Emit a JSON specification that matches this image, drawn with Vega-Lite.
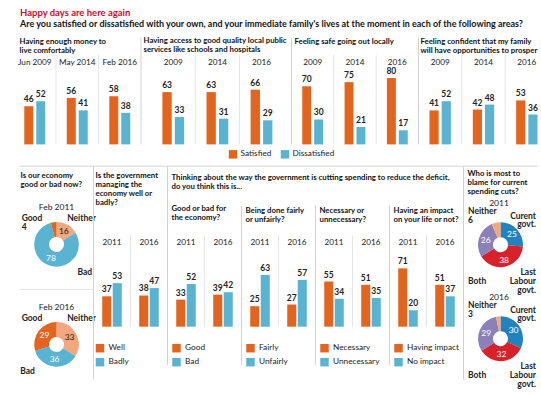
{
"$schema": "https://vega.github.io/schema/vega-lite/v6.json",
"background": "white",
"padding": {"left": 13.5, "top": 7.4, "right": 0, "bottom": 0},
"title": {"text": "Happy days are here again", "subtitle": "Are you satisfied or dissatisfied with your own, and your immediate family's lives at the moment in each of the following areas?", "anchor": "start", "frame": "group", "dx": 6.5, "offset": 8, "color": "#cc0a2f", "fontSize": 9.5, "fontWeight": "bold", "subtitleColor": "#111", "subtitleFontSize": 9, "subtitleFontWeight": "bold", "subtitlePadding": 2.5},
"datasets": {
"money": [{"year":"Jun 2009","status":"Satisfied","value":46},{"year":"Jun 2009","status":"Dissatisfied","value":52},{"year":"May 2014","status":"Satisfied","value":56},{"year":"May 2014","status":"Dissatisfied","value":41},{"year":"Feb 2016","status":"Satisfied","value":58},{"year":"Feb 2016","status":"Dissatisfied","value":38}],
"services": [{"year":"2009","status":"Satisfied","value":63},{"year":"2009","status":"Dissatisfied","value":33},{"year":"2014","status":"Satisfied","value":63},{"year":"2014","status":"Dissatisfied","value":31},{"year":"2016","status":"Satisfied","value":66},{"year":"2016","status":"Dissatisfied","value":29}],
"safe": [{"year":"2009","status":"Satisfied","value":70},{"year":"2009","status":"Dissatisfied","value":30},{"year":"2014","status":"Satisfied","value":75},{"year":"2014","status":"Dissatisfied","value":21},{"year":"2016","status":"Satisfied","value":80},{"year":"2016","status":"Dissatisfied","value":17}],
"prosper": [{"year":"2009","status":"Satisfied","value":41},{"year":"2009","status":"Dissatisfied","value":52},{"year":"2014","status":"Satisfied","value":42},{"year":"2014","status":"Dissatisfied","value":48},{"year":"2016","status":"Satisfied","value":53},{"year":"2016","status":"Dissatisfied","value":36}],
"gov": [{"year":"2011","answer":"Well","value":37},{"year":"2011","answer":"Badly","value":53},{"year":"2016","answer":"Well","value":38},{"year":"2016","answer":"Badly","value":47}],
"effect": [{"year":"2011","answer":"Good","value":33},{"year":"2011","answer":"Bad","value":52},{"year":"2016","answer":"Good","value":39},{"year":"2016","answer":"Bad","value":42}],
"fair": [{"year":"2011","answer":"Fairly","value":25},{"year":"2011","answer":"Unfairly","value":63},{"year":"2016","answer":"Fairly","value":27},{"year":"2016","answer":"Unfairly","value":57}],
"necessary": [{"year":"2011","answer":"Necessary","value":55},{"year":"2011","answer":"Unnecessary","value":34},{"year":"2016","answer":"Necessary","value":51},{"year":"2016","answer":"Unnecessary","value":35}],
"impact": [{"year":"2011","answer":"Having impact","value":71},{"year":"2011","answer":"No impact","value":20},{"year":"2016","answer":"Having impact","value":51},{"year":"2016","answer":"No impact","value":37}],
"econ": [{"period":"Feb 2011","answer":"Neither","value":16,"rank":1},{"period":"Feb 2011","answer":"Bad","value":78,"rank":2},{"period":"Feb 2011","answer":"Good","value":4,"rank":3},{"period":"Feb 2016","answer":"Neither","value":33,"rank":1},{"period":"Feb 2016","answer":"Bad","value":36,"rank":2},{"period":"Feb 2016","answer":"Good","value":29,"rank":3}],
"blame": [{"year":"2011","answer":"Curent govt.","value":25,"rank":1},{"year":"2011","answer":"Last Labour govt.","value":38,"rank":2},{"year":"2011","answer":"Both","value":26,"rank":3},{"year":"2011","answer":"Neither","value":6,"rank":4},{"year":"2016","answer":"Curent govt.","value":30,"rank":1},{"year":"2016","answer":"Last Labour govt.","value":32,"rank":2},{"year":"2016","answer":"Both","value":29,"rank":3},{"year":"2016","answer":"Neither","value":3,"rank":4}]
},
"vconcat": [
{"hconcat": [
 {"width": 127.5, "height": 83, "data": {"name": "money"},
  "title": {"text": ["Having enough money to", "live comfortably"], "dx": 6, "offset": -18},
  "layer": [
   {"mark": {"type": "bar"}, "encoding": {
     "x": {"field": "year", "type": "nominal", "scale": {"type": "band", "domain": ["Jun 2009","May 2014","Feb 2016"], "paddingInner": 0, "paddingOuter": 0}, "axis": {"orient": "top", "title": null, "offset": -1.3}},
     "xOffset": {"field": "status", "type": "nominal", "scale": {"domain": ["Satisfied","Dissatisfied"], "paddingInner": 0.25, "paddingOuter": 0.9}},
     "y": {"field": "value", "type": "quantitative", "scale": {"domain": [0, 100]}, "axis": null},
     "color": {"field": "status", "type": "nominal", "scale": {"domain": ["Satisfied","Dissatisfied"], "range": ["#e2651f","#5ab3d1"]}, "legend": null}}},
   {"mark": {"type": "text", "baseline": "bottom", "dy": -2, "fontWeight": "bold"}, "encoding": {
     "x": {"field": "year", "type": "nominal"},
     "xOffset": {"field": "status", "type": "nominal"},
     "y": {"field": "value", "type": "quantitative"},
     "text": {"field": "value", "type": "quantitative"}}},
   {"transform": [{"filter": "datum.status === 'Satisfied' && datum.year !== 'Jun 2009'"}], "mark": {"type": "rule", "color": "#e6e6e6"}, "encoding": {
     "x": {"field": "year", "type": "nominal", "bandPosition": 0}, "y": {"datum": 108}, "y2": {"datum": 0}}},
   {"transform": [{"filter": "datum.status === 'Satisfied' && datum.year === 'Feb 2016'"}], "mark": {"type": "rule", "color": "#d2d2d2"}, "encoding": {
     "x": {"field": "year", "type": "nominal", "bandPosition": 1}, "y": {"datum": 128.6}, "y2": {"datum": 0}}}
  ]},
 {"width": 150, "height": 83, "data": {"name": "services"},
  "title": {"text": ["Having access to good quality local public", "services like schools and hospitals"], "dx": 2, "offset": 0.5},
  "layer": [
   {"mark": {"type": "bar"}, "encoding": {
     "x": {"field": "year", "type": "nominal", "scale": {"type": "band", "domain": ["2009","2014","2016"], "paddingInner": 0, "paddingOuter": 0.2, "align": 0.55}, "axis": {"orient": "top", "title": null, "offset": -1.3}},
     "xOffset": {"field": "status", "type": "nominal", "scale": {"domain": ["Satisfied","Dissatisfied"], "paddingInner": 0.25, "paddingOuter": 0.9}},
     "y": {"field": "value", "type": "quantitative", "scale": {"domain": [0, 100]}, "axis": null},
     "color": {"field": "status", "type": "nominal", "scale": {"domain": ["Satisfied","Dissatisfied"], "range": ["#e2651f","#5ab3d1"]}, "legend": {"orient": "none", "legendX": 87, "legendY": 88.3, "direction": "horizontal", "title": null, "columnPadding": 9, "labelOffset": 3}}}},
   {"mark": {"type": "text", "baseline": "bottom", "dy": -2, "fontWeight": "bold"}, "encoding": {
     "x": {"field": "year", "type": "nominal"},
     "xOffset": {"field": "status", "type": "nominal"},
     "y": {"field": "value", "type": "quantitative"},
     "text": {"field": "value", "type": "quantitative"}}},
   {"transform": [{"filter": "datum.status === 'Satisfied' && datum.year !== '2009'"}], "mark": {"type": "rule", "color": "#e6e6e6"}, "encoding": {
     "x": {"field": "year", "type": "nominal", "bandPosition": 0}, "y": {"datum": 108}, "y2": {"datum": 0}}}
  ]},
 {"width": 127, "height": 83, "data": {"name": "safe"},
  "title": {"text": ["Feeling safe going out locally", ""], "dx": 3, "offset": -18},
  "layer": [
   {"mark": {"type": "bar"}, "encoding": {
     "x": {"field": "year", "type": "nominal", "scale": {"type": "band", "domain": ["2009","2014","2016"], "paddingInner": 0, "paddingOuter": 0}, "axis": {"orient": "top", "title": null, "offset": -1.3}},
     "xOffset": {"field": "status", "type": "nominal", "scale": {"domain": ["Satisfied","Dissatisfied"], "paddingInner": 0.25, "paddingOuter": 0.9}},
     "y": {"field": "value", "type": "quantitative", "scale": {"domain": [0, 100]}, "axis": null},
     "color": {"field": "status", "type": "nominal", "scale": {"domain": ["Satisfied","Dissatisfied"], "range": ["#e2651f","#5ab3d1"]}, "legend": null}}},
   {"mark": {"type": "text", "baseline": "bottom", "dy": -2, "fontWeight": "bold"}, "encoding": {
     "x": {"field": "year", "type": "nominal"},
     "xOffset": {"field": "status", "type": "nominal"},
     "y": {"field": "value", "type": "quantitative"},
     "text": {"field": "value", "type": "quantitative"}}},
   {"transform": [{"filter": "datum.status === 'Satisfied' && datum.year !== '2009'"}], "mark": {"type": "rule", "color": "#e6e6e6"}, "encoding": {
     "x": {"field": "year", "type": "nominal", "bandPosition": 0}, "y": {"datum": 108}, "y2": {"datum": 0}}},
   {"transform": [{"filter": "datum.status === 'Satisfied' && datum.year === '2009'"}], "mark": {"type": "rule", "color": "#d2d2d2"}, "encoding": {
     "x": {"field": "year", "type": "nominal", "bandPosition": 0}, "y": {"datum": 128.6}, "y2": {"datum": 0}}}
  ]},
 {"width": 123, "height": 83, "data": {"name": "prosper"},
  "title": {"text": ["Feeling confident that my family", "will have opportunities to prosper"], "dx": 2, "offset": -18},
  "layer": [
   {"mark": {"type": "bar"}, "encoding": {
     "x": {"field": "year", "type": "nominal", "scale": {"type": "band", "domain": ["2009","2014","2016"], "paddingInner": 0, "paddingOuter": 0, "range": [0, 130]}, "axis": {"orient": "top", "title": null, "offset": -1.3}},
     "xOffset": {"field": "status", "type": "nominal", "scale": {"domain": ["Satisfied","Dissatisfied"], "paddingInner": 0.25, "paddingOuter": 0.9}},
     "y": {"field": "value", "type": "quantitative", "scale": {"domain": [0, 100]}, "axis": null},
     "color": {"field": "status", "type": "nominal", "scale": {"domain": ["Satisfied","Dissatisfied"], "range": ["#e2651f","#5ab3d1"]}, "legend": null}}},
   {"mark": {"type": "text", "baseline": "bottom", "dy": -2, "fontWeight": "bold"}, "encoding": {
     "x": {"field": "year", "type": "nominal"},
     "xOffset": {"field": "status", "type": "nominal"},
     "y": {"field": "value", "type": "quantitative"},
     "text": {"field": "value", "type": "quantitative"}}},
   {"transform": [{"filter": "datum.status === 'Satisfied' && datum.year !== '2009'"}], "mark": {"type": "rule", "color": "#e6e6e6"}, "encoding": {
     "x": {"field": "year", "type": "nominal", "bandPosition": 0}, "y": {"datum": 108}, "y2": {"datum": 0}}},
   {"transform": [{"filter": "datum.status === 'Satisfied' && datum.year === '2009'"}], "mark": {"type": "rule", "color": "#d2d2d2"}, "encoding": {
     "x": {"field": "year", "type": "nominal", "bandPosition": 0}, "y": {"datum": 128.6}, "y2": {"datum": 0}}}
  ]}
 ], "spacing": 0, "bounds": "flush", "resolve": {"scale": {"x": "independent", "y": "independent", "xOffset": "independent", "color": "independent"}}},
{"hconcat": [
 {"width": 5.5, "height": 10, "mark": {"type": "text"}, "encoding": {"text": {"value": ""}}},
 {"width": 74, "height": 165.4, "data": {"name": "econ"},
  "title": {"text": ["Is our economy", "good or bad now?"], "dx": 1, "offset": 14},
  "encoding": {"y": {"field": "period", "type": "nominal", "scale": {"type": "point", "padding": 0.327, "domain": ["Feb 2011","Feb 2016"]}, "axis": null}},
  "layer": [
   {"transform": [{"filter": "datum.period === 'Feb 2011'"}], "mark": {"type": "arc", "innerRadius": 7.5, "outerRadius": 22.3}, "encoding": {
     "theta": {"field": "value", "type": "quantitative", "stack": "normalize"},
     "order": {"field": "rank", "type": "quantitative"},
     "color": {"field": "answer", "type": "nominal", "scale": {"domain": ["Good","Neither","Bad"], "range": ["#e2651f","#f2a77c","#5ab3d1"]}, "legend": null}}},
   {"transform": [{"filter": "datum.period === 'Feb 2016'"}], "mark": {"type": "arc", "innerRadius": 7.5, "outerRadius": 22.3}, "encoding": {
     "theta": {"field": "value", "type": "quantitative", "stack": "normalize"},
     "order": {"field": "rank", "type": "quantitative"},
     "color": {"field": "answer", "type": "nominal"}}},
   {"transform": [{"filter": "datum.period === 'Feb 2011'"}], "mark": {"type": "text", "radius": 15, "fontSize": 8.5}, "encoding": {
     "theta": {"field": "value", "type": "quantitative", "stack": "normalize"},
     "order": {"field": "rank", "type": "quantitative"},
     "detail": {"field": "answer", "type": "nominal"},
     "text": {"condition": {"test": "datum.value >= 10", "field": "value", "type": "quantitative"}, "value": ""},
     "color": {"condition": {"test": "datum.answer === 'Neither'", "value": "#222"}, "value": "white"}}},
   {"transform": [{"filter": "datum.period === 'Feb 2016'"}], "mark": {"type": "text", "radius": 15, "fontSize": 8.5}, "encoding": {
     "theta": {"field": "value", "type": "quantitative", "stack": "normalize"},
     "order": {"field": "rank", "type": "quantitative"},
     "detail": {"field": "answer", "type": "nominal"},
     "text": {"condition": {"test": "datum.value >= 10", "field": "value", "type": "quantitative"}, "value": ""},
     "color": {"condition": {"test": "datum.answer === 'Neither'", "value": "#222"}, "value": "white"}}},
   {"transform": [{"filter": "datum.answer === 'Good'"}], "mark": {"type": "text", "radius": 43.5, "align": "left", "baseline": "middle", "fontWeight": "bold"}, "encoding": {
     "theta": {"datum": 0.852}, "text": {"field": "answer", "type": "nominal"}}},
   {"transform": [{"filter": "datum.answer === 'Good' && datum.value < 10"}], "mark": {"type": "text", "radius": 43.5, "dy": 9, "align": "left", "baseline": "middle", "fontWeight": "bold"}, "encoding": {
     "theta": {"datum": 0.852}, "text": {"field": "value", "type": "quantitative"}}},
   {"transform": [{"filter": "datum.answer === 'Neither'"}], "mark": {"type": "text", "radius": 28, "align": "left", "baseline": "middle", "fontWeight": "bold"}, "encoding": {
     "theta": {"datum": 0.062}, "text": {"field": "answer", "type": "nominal"}}},
   {"transform": [{"filter": "datum.answer === 'Bad' && datum.period === 'Feb 2011'"}], "mark": {"type": "text", "radius": 34.4, "align": "left", "baseline": "middle", "fontWeight": "bold"}, "encoding": {
     "theta": {"datum": 0.3956}, "text": {"field": "answer", "type": "nominal"}}},
   {"transform": [{"filter": "datum.answer === 'Bad' && datum.period === 'Feb 2016'"}], "mark": {"type": "text", "radius": 45, "align": "left", "baseline": "middle", "fontWeight": "bold"}, "encoding": {
     "theta": {"datum": 0.649}, "text": {"field": "answer", "type": "nominal"}}},
   {"transform": [{"filter": "datum.rank === 1"}], "mark": {"type": "text", "dy": -37.7, "fontSize": 8.5}, "encoding": {
     "text": {"field": "period", "type": "nominal"}}}
  ]},
 {"width": 74, "height": 115, "data": {"name": "gov"},
  "title": {"text": ["Is the government", "managing the", "economy well or", "badly?"], "dx": 2, "offset": -41},
  "layer": [
   {"mark": {"type": "bar"}, "encoding": {
     "x": {"field": "year", "type": "nominal", "scale": {"type": "band", "domain": ["2011","2016"], "paddingInner": 0, "paddingOuter": 0}, "axis": {"orient": "top", "title": null, "offset": -31}},
     "xOffset": {"field": "answer", "type": "nominal", "scale": {"domain": ["Well","Badly"], "paddingInner": 0.14, "paddingOuter": 0.83}},
     "y": {"field": "value", "type": "quantitative", "scale": {"domain": [0, 137]}, "axis": null},
     "color": {"field": "answer", "type": "nominal", "scale": {"domain": ["Well","Badly"], "range": ["#e2651f","#5ab3d1"]}, "legend": {"orient": "none", "legendX": 2, "legendY": 132, "direction": "vertical", "title": null, "rowPadding": 4, "labelOffset": 4}}}},
   {"mark": {"type": "text", "baseline": "bottom", "dy": -2, "fontWeight": "bold"}, "encoding": {
     "x": {"field": "year", "type": "nominal"},
     "xOffset": {"field": "answer", "type": "nominal"},
     "y": {"field": "value", "type": "quantitative"},
     "text": {"field": "value", "type": "quantitative"}}},
   {"transform": [{"filter": "datum.answer === 'Well' && datum.year === '2016'"}], "mark": {"type": "rule", "color": "#e6e6e6"}, "encoding": {
     "x": {"field": "year", "type": "nominal", "bandPosition": 0}, "y": {"datum": 110.8}, "y2": {"datum": 0}}},
   {"transform": [{"filter": "datum.answer === 'Well' && datum.year === '2011'"}], "mark": {"type": "rule", "color": "#d2d2d2"}, "encoding": {
     "x": {"field": "year", "type": "nominal", "bandPosition": 0}, "y": {"datum": 195.4}, "y2": {"datum": -64.3}}},
   {"transform": [{"filter": "datum.answer === 'Well' && datum.year === '2016'"}], "mark": {"type": "rule", "color": "#d2d2d2"}, "encoding": {
     "x": {"field": "year", "type": "nominal", "bandPosition": 1}, "y": {"datum": 195.4}, "y2": {"datum": -46.5}}},
   {"transform": [{"filter": "datum.answer === 'Well' && datum.year === '2016'"}], "mark": {"type": "rule", "color": "#d2d2d2"}, "encoding": {
     "x": {"field": "year", "type": "nominal", "bandPosition": 9}, "y": {"datum": 195.4}, "y2": {"datum": -64.3}}},
   {"transform": [{"filter": "datum.answer === 'Well' && datum.year === '2011'"}], "mark": {"type": "rule", "color": "#d2d2d2"}, "encoding": {
     "x": {"field": "year", "type": "nominal", "bandPosition": -2}, "x2": {"field": "year", "bandPosition": 12}, "y": {"datum": 195.4}}},
   {"transform": [{"filter": "datum.answer === 'Well' && datum.year === '2011'"}], "mark": {"type": "rule", "color": "#e6e6e6"}, "encoding": {
     "x": {"field": "year", "type": "nominal", "bandPosition": -2}, "x2": {"field": "year", "bandPosition": 0}, "y": {"datum": 45.3}}}
  ]},
 {"width": 74, "height": 115, "data": {"name": "effect"},
  "title": {"text": ["Thinking about the way the government is cutting spending to reduce the deficit,", "do you think this is..."], "subtitle": ["Good or bad for", "the economy?"], "subtitleFontWeight": "bold", "subtitleFontSize": 7.8, "subtitleColor": "#111", "subtitleLineHeight": 8.5, "subtitlePadding": 15, "dx": 4, "offset": -10},
  "layer": [
   {"mark": {"type": "bar"}, "encoding": {
     "x": {"field": "year", "type": "nominal", "scale": {"type": "band", "domain": ["2011","2016"], "paddingInner": 0, "paddingOuter": 0}, "axis": {"orient": "top", "title": null, "offset": -31}},
     "xOffset": {"field": "answer", "type": "nominal", "scale": {"domain": ["Good","Bad"], "paddingInner": 0.14, "paddingOuter": 0.83}},
     "y": {"field": "value", "type": "quantitative", "scale": {"domain": [0, 137]}, "axis": null},
     "color": {"field": "answer", "type": "nominal", "scale": {"domain": ["Good","Bad"], "range": ["#e2651f","#5ab3d1"]}, "legend": {"orient": "none", "legendX": 4.5, "legendY": 132, "direction": "vertical", "title": null, "rowPadding": 4, "labelOffset": 4}}}},
   {"mark": {"type": "text", "baseline": "bottom", "dy": -2, "fontWeight": "bold"}, "encoding": {
     "x": {"field": "year", "type": "nominal"},
     "xOffset": {"field": "answer", "type": "nominal"},
     "y": {"field": "value", "type": "quantitative"},
     "text": {"field": "value", "type": "quantitative"}}},
   {"transform": [{"filter": "datum.answer === 'Good' && datum.year === '2016'"}], "mark": {"type": "rule", "color": "#e6e6e6"}, "encoding": {
     "x": {"field": "year", "type": "nominal", "bandPosition": 0}, "y": {"datum": 110.8}, "y2": {"datum": 0}}}
  ]},
 {"width": 74, "height": 115, "data": {"name": "fair"},
  "title": {"text": ["Being done fairly", "or unfairly?"], "dx": 4, "offset": -19},
  "layer": [
   {"mark": {"type": "bar"}, "encoding": {
     "x": {"field": "year", "type": "nominal", "scale": {"type": "band", "domain": ["2011","2016"], "paddingInner": 0, "paddingOuter": 0}, "axis": {"orient": "top", "title": null, "offset": -31}},
     "xOffset": {"field": "answer", "type": "nominal", "scale": {"domain": ["Fairly","Unfairly"], "paddingInner": 0.14, "paddingOuter": 0.83}},
     "y": {"field": "value", "type": "quantitative", "scale": {"domain": [0, 137]}, "axis": null},
     "color": {"field": "answer", "type": "nominal", "scale": {"domain": ["Fairly","Unfairly"], "range": ["#e2651f","#5ab3d1"]}, "legend": {"orient": "none", "legendX": 4.5, "legendY": 132, "direction": "vertical", "title": null, "rowPadding": 4, "labelOffset": 4}}}},
   {"mark": {"type": "text", "baseline": "bottom", "dy": -2, "fontWeight": "bold"}, "encoding": {
     "x": {"field": "year", "type": "nominal"},
     "xOffset": {"field": "answer", "type": "nominal"},
     "y": {"field": "value", "type": "quantitative"},
     "text": {"field": "value", "type": "quantitative"}}},
   {"transform": [{"filter": "datum.answer === 'Fairly' && datum.year === '2016'"}], "mark": {"type": "rule", "color": "#e6e6e6"}, "encoding": {
     "x": {"field": "year", "type": "nominal", "bandPosition": 0}, "y": {"datum": 110.8}, "y2": {"datum": 0}}},
   {"transform": [{"filter": "datum.answer === 'Fairly' && datum.year === '2011'"}], "mark": {"type": "rule", "color": "#d2d2d2"}, "encoding": {
     "x": {"field": "year", "type": "nominal", "bandPosition": 0}, "y": {"datum": 147.7}, "y2": {"datum": -46.5}}}
  ]},
 {"width": 74, "height": 115, "data": {"name": "necessary"},
  "title": {"text": ["Necessary or", "unnecessary?"], "dx": 4, "offset": -19},
  "layer": [
   {"mark": {"type": "bar"}, "encoding": {
     "x": {"field": "year", "type": "nominal", "scale": {"type": "band", "domain": ["2011","2016"], "paddingInner": 0, "paddingOuter": 0}, "axis": {"orient": "top", "title": null, "offset": -31}},
     "xOffset": {"field": "answer", "type": "nominal", "scale": {"domain": ["Necessary","Unnecessary"], "paddingInner": 0.14, "paddingOuter": 0.83}},
     "y": {"field": "value", "type": "quantitative", "scale": {"domain": [0, 137]}, "axis": null},
     "color": {"field": "answer", "type": "nominal", "scale": {"domain": ["Necessary","Unnecessary"], "range": ["#e2651f","#5ab3d1"]}, "legend": {"orient": "none", "legendX": 4.5, "legendY": 132, "direction": "vertical", "title": null, "rowPadding": 4, "labelOffset": 4}}}},
   {"mark": {"type": "text", "baseline": "bottom", "dy": -2, "fontWeight": "bold"}, "encoding": {
     "x": {"field": "year", "type": "nominal"},
     "xOffset": {"field": "answer", "type": "nominal"},
     "y": {"field": "value", "type": "quantitative"},
     "text": {"field": "value", "type": "quantitative"}}},
   {"transform": [{"filter": "datum.answer === 'Necessary' && datum.year === '2016'"}], "mark": {"type": "rule", "color": "#e6e6e6"}, "encoding": {
     "x": {"field": "year", "type": "nominal", "bandPosition": 0}, "y": {"datum": 110.8}, "y2": {"datum": 0}}},
   {"transform": [{"filter": "datum.answer === 'Necessary' && datum.year === '2011'"}], "mark": {"type": "rule", "color": "#d2d2d2"}, "encoding": {
     "x": {"field": "year", "type": "nominal", "bandPosition": 0}, "y": {"datum": 147.7}, "y2": {"datum": -46.5}}}
  ]},
 {"width": 74, "height": 115, "data": {"name": "impact"},
  "title": {"text": ["Having an impact", "on your life or not?"], "dx": 4, "offset": -19},
  "layer": [
   {"mark": {"type": "bar"}, "encoding": {
     "x": {"field": "year", "type": "nominal", "scale": {"type": "band", "domain": ["2011","2016"], "paddingInner": 0, "paddingOuter": 0}, "axis": {"orient": "top", "title": null, "offset": -31}},
     "xOffset": {"field": "answer", "type": "nominal", "scale": {"domain": ["Having impact","No impact"], "paddingInner": 0.14, "paddingOuter": 0.83}},
     "y": {"field": "value", "type": "quantitative", "scale": {"domain": [0, 137]}, "axis": null},
     "color": {"field": "answer", "type": "nominal", "scale": {"domain": ["Having impact","No impact"], "range": ["#e2651f","#5ab3d1"]}, "legend": {"orient": "none", "legendX": 4.5, "legendY": 132, "direction": "vertical", "title": null, "rowPadding": 4, "labelOffset": 4}}}},
   {"mark": {"type": "text", "baseline": "bottom", "dy": -2, "fontWeight": "bold"}, "encoding": {
     "x": {"field": "year", "type": "nominal"},
     "xOffset": {"field": "answer", "type": "nominal"},
     "y": {"field": "value", "type": "quantitative"},
     "text": {"field": "value", "type": "quantitative"}}},
   {"transform": [{"filter": "datum.answer === 'Having impact' && datum.year === '2016'"}], "mark": {"type": "rule", "color": "#e6e6e6"}, "encoding": {
     "x": {"field": "year", "type": "nominal", "bandPosition": 0}, "y": {"datum": 110.8}, "y2": {"datum": 0}}},
   {"transform": [{"filter": "datum.answer === 'Having impact' && datum.year === '2011'"}], "mark": {"type": "rule", "color": "#d2d2d2"}, "encoding": {
     "x": {"field": "year", "type": "nominal", "bandPosition": 0}, "y": {"datum": 147.7}, "y2": {"datum": -46.5}}}
  ]},
 {"width": 74, "height": 160, "data": {"name": "blame"},
  "title": {"text": ["Who is most to", "blame for current", "spending cuts?"], "dx": 4, "offset": 2.6},
  "encoding": {"y": {"field": "year", "type": "nominal", "scale": {"type": "point", "padding": 0.351, "domain": ["2011","2016"]}, "axis": null}},
  "layer": [
   {"transform": [{"filter": "datum.year === '2011'"}], "mark": {"type": "arc", "innerRadius": 7.5, "outerRadius": 22.5}, "encoding": {
     "theta": {"field": "value", "type": "quantitative", "stack": "normalize"},
     "order": {"field": "rank", "type": "quantitative"},
     "color": {"field": "answer", "type": "nominal", "scale": {"domain": ["Curent govt.","Last Labour govt.","Both","Neither"], "range": ["#2282bf","#d7212b","#8c80b9","#f2a77c"]}, "legend": null}}},
   {"transform": [{"filter": "datum.year === '2016'"}], "mark": {"type": "arc", "innerRadius": 7.5, "outerRadius": 22.5}, "encoding": {
     "theta": {"field": "value", "type": "quantitative", "stack": "normalize"},
     "order": {"field": "rank", "type": "quantitative"},
     "color": {"field": "answer", "type": "nominal"}}},
   {"transform": [{"filter": "datum.year === '2011'"}], "mark": {"type": "text", "radius": 15.5, "fontSize": 8.5, "color": "white"}, "encoding": {
     "theta": {"field": "value", "type": "quantitative", "stack": "normalize"},
     "order": {"field": "rank", "type": "quantitative"},
     "detail": {"field": "answer", "type": "nominal"},
     "text": {"condition": {"test": "datum.value >= 10", "field": "value", "type": "quantitative"}, "value": ""}}},
   {"transform": [{"filter": "datum.year === '2016'"}], "mark": {"type": "text", "radius": 15.5, "fontSize": 8.5, "color": "white"}, "encoding": {
     "theta": {"field": "value", "type": "quantitative", "stack": "normalize"},
     "order": {"field": "rank", "type": "quantitative"},
     "detail": {"field": "answer", "type": "nominal"},
     "text": {"condition": {"test": "datum.value >= 10", "field": "value", "type": "quantitative"}, "value": ""}}},
   {"transform": [{"filter": "datum.answer === 'Neither'"}], "mark": {"type": "text", "radius": 46.5, "align": "left", "baseline": "middle", "fontWeight": "bold"}, "encoding": {
     "theta": {"datum": 0.877}, "text": {"field": "answer", "type": "nominal"}}},
   {"transform": [{"filter": "datum.answer === 'Neither'"}], "mark": {"type": "text", "radius": 46.5, "dy": 8.5, "align": "left", "baseline": "middle", "fontWeight": "bold"}, "encoding": {
     "theta": {"datum": 0.877}, "text": {"field": "value", "type": "quantitative"}}},
   {"transform": [{"filter": "datum.answer === 'Curent govt.'"}], "mark": {"type": "text", "radius": 45.8, "align": "right", "baseline": "middle", "fontWeight": "bold", "lineBreak": " ", "lineHeight": 8.5}, "encoding": {
     "theta": {"datum": 0.141}, "text": {"field": "answer", "type": "nominal"}}},
   {"transform": [{"filter": "datum.answer === 'Last Labour govt.'"}], "mark": {"type": "text", "radius": 44.9, "align": "right", "baseline": "middle", "fontWeight": "bold", "lineBreak": " ", "lineHeight": 9}, "encoding": {
     "theta": {"datum": 0.3546}, "text": {"field": "answer", "type": "nominal"}}},
   {"transform": [{"filter": "datum.answer === 'Both'"}], "mark": {"type": "text", "radius": 48.9, "align": "left", "baseline": "middle", "fontWeight": "bold"}, "encoding": {
     "theta": {"datum": 0.616}, "text": {"field": "answer", "type": "nominal"}}},
   {"transform": [{"filter": "datum.rank === 1"}], "mark": {"type": "text", "dy": -42, "dx": -1.5, "fontSize": 8.5}, "encoding": {
     "text": {"field": "year", "type": "nominal"}}}
  ]}
 ], "spacing": 0, "bounds": "flush", "resolve": {"scale": {"x": "independent", "y": "independent", "xOffset": "independent", "color": "independent", "theta": "independent"}}}
],
"spacing": 150.3,
"bounds": "flush",
"resolve": {"scale": {"x": "independent", "y": "independent", "xOffset": "independent", "color": "independent", "theta": "independent"}},
"config": {
 "font": "Lato",
 "view": {"stroke": null},
 "axis": {"domain": false, "ticks": false, "tickSize": 0, "labelPadding": 0, "labelBaseline": "middle", "labelAngle": 0, "labelFontSize": 8.2, "labelColor": "#222", "grid": false},
 "title": {"fontSize": 7.8, "fontWeight": "bold", "color": "#111", "anchor": "start", "frame": "group", "lineHeight": 9},
 "legend": {"labelFontSize": 8.3, "labelColor": "#222", "symbolType": "square", "symbolSize": 72, "symbolStrokeWidth": 0, "padding": 0},
 "text": {"fontSize": 8.5, "color": "#222"}
}
}
